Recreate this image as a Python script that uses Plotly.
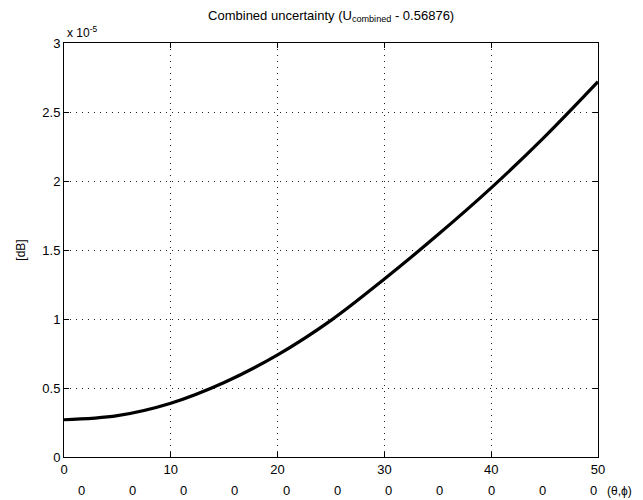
import plotly.graph_objects as go

# Data (values in units of 1e-5 dB)
angle = [0, 5, 10, 15, 20, 25, 30, 35, 40, 45, 50]
uncert = [0.27, 0.30, 0.39, 0.54, 0.74, 0.99, 1.29, 1.61, 1.95, 2.32, 2.72]

x_ticks = [0, 10, 20, 30, 40, 50]
y_ticks = [0, 0.5, 1, 1.5, 2, 2.5, 3]
y_tick_labels = ["0", "0.5", "1", "1.5", "2", "2.5", "3"]

# second row of tick labels (as printed in the figure)
row2_pos = [1.6, 6.4, 11.2, 16.0, 20.8, 25.6, 30.4, 35.2, 40.0, 44.8, 49.6]
row2_labels = ["0"] * 11

font = "Liberation Sans, Arial, sans-serif"

fig = go.Figure()
fig.add_trace(go.Scatter(x=angle, y=uncert, mode="lines",
                         line=dict(color="black", width=3.2, shape="spline"),
                         showlegend=False))

axis_common = dict(showline=True, linecolor="black", linewidth=1, mirror="ticks",
                   ticks="inside", ticklen=5, tickcolor="black",
                   showgrid=True, gridcolor="#222222", griddash="1px,5px", gridwidth=1.2,
                   zeroline=False, tickfont=dict(family=font, size=13, color="black"))

fig.update_xaxes(range=[0, 50], tickvals=x_ticks, **axis_common)
fig.update_yaxes(range=[0, 3], tickvals=y_ticks, ticktext=y_tick_labels,
                 title=dict(text="[dB]", font=dict(family=font, size=12, color="black"),
                            standoff=14),
                 **axis_common)

annotations = []
for p, t in zip(row2_pos, row2_labels):
    annotations.append(dict(x=p / 50, y=-0.08, xref="paper", yref="paper", text=t,
                            showarrow=False, xanchor="center", yanchor="middle",
                            font=dict(family=font, size=13, color="black")))
annotations.append(dict(x=50.7 / 50, y=-0.083, xref="paper", yref="paper", text="(θ,ϕ)",
                        showarrow=False, xanchor="left", yanchor="middle",
                        font=dict(family=font, size=12, color="black")))
annotations.append(dict(x=0, y=1.0, xref="paper", yref="paper", text="x 10<sup>-5</sup>",
                        showarrow=False, xanchor="left", yanchor="bottom",
                        xshift=1, yshift=1,
                        font=dict(family=font, size=12, color="black")))

fig.update_layout(
    width=643, height=500,
    margin=dict(l=64, r=45, t=43, b=43),
    paper_bgcolor="white", plot_bgcolor="white",
    title=dict(text="Combined uncertainty (U<sub>combined</sub> - 0.56876)",
               x=0.515, xanchor="center", y=1 - 15 / 500, yanchor="middle",
               font=dict(family=font, size=13, color="black")),
    annotations=annotations,
)

fig.write_html("out.html")
